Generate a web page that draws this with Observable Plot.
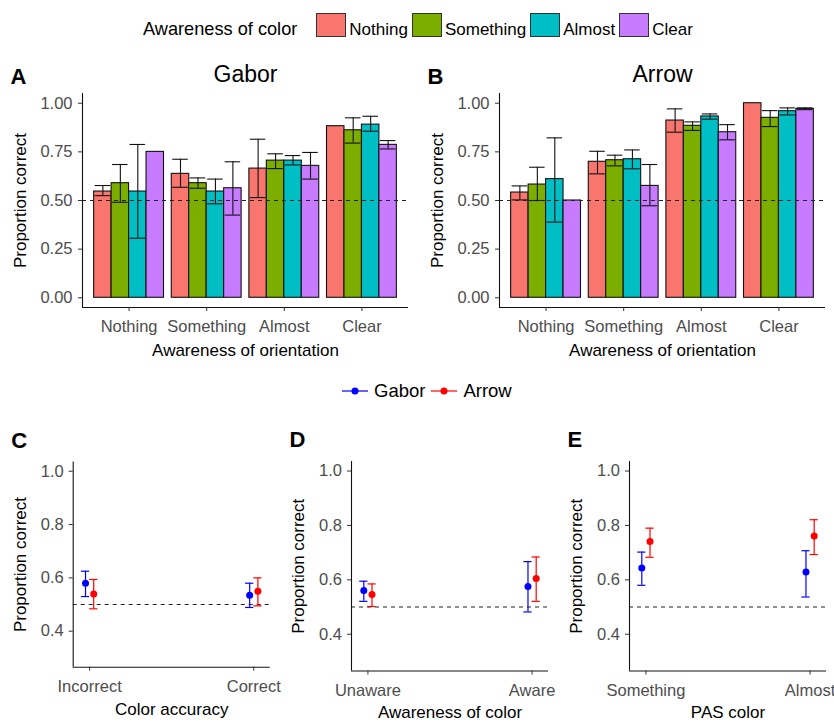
<!DOCTYPE html>
<html><head><meta charset="utf-8">
<script src="https://cdn.jsdelivr.net/npm/d3@7"></script>
<script src="https://cdn.jsdelivr.net/npm/@observablehq/plot@0.6"></script>
<style>
body{margin:0;background:#fff;font-family:"Liberation Sans",Arial,sans-serif;}
#root{position:relative;width:834px;height:722px;overflow:hidden;background:#fff;}
#root > svg{position:absolute;}
.legend{position:absolute;display:flex;align-items:center;white-space:nowrap;color:#000;}
.key{display:inline-block;box-sizing:border-box;border:1px solid #333;}
.lbl{display:inline-block;position:relative;}
</style></head><body><div id="root"></div><script>
// ---------- data ----------
const orientLevels = ["Nothing", "Something", "Almost", "Clear"];
const colorLevels = ["Nothing", "Something", "Almost", "Clear"];
const colorRange = ["#F8766D", "#7CAE00", "#00BFC4", "#C77CFF"];

// rows: awareness of orientation; columns: awareness of color
const gaborMean = [[0.546, 0.589, 0.546, 0.750], [0.637, 0.589, 0.546, 0.563], [0.664, 0.705, 0.705, 0.678], [0.882, 0.861, 0.890, 0.786]];
const gaborLo   = [[0.525, 0.491, 0.306, null],  [0.568, 0.563, 0.483, 0.425], [0.515, 0.664, 0.683, 0.610], [null,  0.795, 0.856, 0.765]];
const gaborHi   = [[0.577, 0.685, 0.788, null],  [0.712, 0.616, 0.610, 0.699], [0.815, 0.740, 0.731, 0.747], [null,  0.925, 0.933, 0.808]];

const arrowMean = [[0.541, 0.582, 0.610, 0.500], [0.699, 0.707, 0.712, 0.575], [0.911, 0.884, 0.932, 0.851], [1.000, 0.925, 0.959, 0.971]];
const arrowLo   = [[0.503, 0.500, 0.389, null],  [0.637, 0.678, 0.663, 0.473], [0.851, 0.860, 0.918, 0.812], [null,  0.880, 0.940, 0.967]];
const arrowHi   = [[0.575, 0.671, 0.822, null],  [0.753, 0.733, 0.760, 0.685], [0.971, 0.904, 0.945, 0.890], [null,  0.962, 0.976, 0.976]];

const taskLevels = ["Gabor", "Arrow"];
const taskColors = ["#0000FF", "#FF0000"];

const accuracyLevels = ["Incorrect", "Correct"];
const accGaborMean = [0.580, 0.535], accGaborLo = [0.530, 0.489], accGaborHi = [0.625, 0.580];
const accArrowMean = [0.540, 0.550], accArrowLo = [0.484, 0.495], accArrowHi = [0.594, 0.600];

const awareLevels = ["Unaware", "Aware"];
const awGaborMean = [0.561, 0.576], awGaborLo = [0.521, 0.482], awGaborHi = [0.595, 0.667];
const awArrowMean = [0.546, 0.605], awArrowLo = [0.502, 0.521], awArrowHi = [0.585, 0.684];

const pasLevels = ["Something", "Almost"];
const pasGaborMean = [0.644, 0.629], pasGaborLo = [0.580, 0.537], pasGaborHi = [0.702, 0.707];
const pasArrowMean = [0.741, 0.761], pasArrowLo = [0.683, 0.693], pasArrowHi = [0.790, 0.821];

const barTicks = [0, 0.25, 0.5, 0.75, 1];
const pointTicks = [0.4, 0.6, 0.8, 1.0];

// ---------- layout ----------
const FONT = '"Liberation Sans", Arial, sans-serif';
const root = document.getElementById("root");

function place(svg, left, top) {
  svg.style.left = left + "px";
  svg.style.top = top + "px";
  root.appendChild(svg);
}

function barPanel({means, los, his, title, letter, left}) {
  const dodge = 0.9, n = colorLevels.length, bw = dodge / n;
  const rows = [];
  orientLevels.forEach((o, gi) => colorLevels.forEach((c, ci) => rows.push({
    orient: o, color: c, pos: gi + 1 + (ci - (n - 1) / 2) * bw,
    mean: means[gi][ci], lo: los[gi][ci], hi: his[gi][ci]
  })));
  const err = rows.filter(d => d.lo != null);
  const whisk = 0.1;
  const xDom = [0.4, orientLevels.length + 0.6], yDom = [-0.05, 1.05];
  return place(Plot.plot({
    width: 417, height: 307, marginTop: 38, marginBottom: 55, marginLeft: 82, marginRight: 9,
    style: {fontFamily: FONT, fontSize: "16.5px", background: "transparent", overflow: "visible"},
    x: {domain: xDom},
    y: {domain: yDom},
    color: {domain: colorLevels, range: colorRange},
    marks: [
      Plot.rect(rows, {x1: d => d.pos - bw / 2, x2: d => d.pos + bw / 2, y1: 0, y2: "mean", fill: "color", stroke: "#111", strokeWidth: 1.1}),
      Plot.ruleX(err, {x: "pos", y1: "lo", y2: "hi", stroke: "#111", strokeWidth: 1.1}),
      Plot.ruleY(err, {y: "hi", x1: d => d.pos - whisk, x2: d => d.pos + whisk, stroke: "#111", strokeWidth: 1.1}),
      Plot.ruleY(err, {y: "lo", x1: d => d.pos - whisk, x2: d => d.pos + whisk, stroke: "#111", strokeWidth: 1.1}),
      Plot.ruleY([0.5], {stroke: "#222", strokeDasharray: "4,4", strokeWidth: 1.1}),
      Plot.ruleY([yDom[0]], {stroke: "#111", strokeWidth: 1.1}),
      Plot.ruleX([xDom[0]], {stroke: "#111", strokeWidth: 1.1}),
      Plot.axisX(orientLevels.map((_, i) => i + 1), {tickFormat: d => orientLevels[d - 1], tickSize: 4, tickPadding: 9, label: null, stroke: "#333", fill: "#4D4D4D", fontSize: 16.5}),
      Plot.axisY(barTicks, {tickFormat: d3.format(".2f"), tickSize: 4, tickPadding: 6, label: null, stroke: "#333", fill: "#4D4D4D", fontSize: 16.5}),
      Plot.text(["Awareness of orientation"], {text: d => d, frameAnchor: "bottom", dy: 42.6, lineAnchor: "middle", fontSize: 17, fill: "#000"}),
      Plot.text(["Proportion correct"], {text: d => d, frameAnchor: "left", dx: -62, rotate: -90, textAnchor: "middle", lineAnchor: "middle", fontSize: 17, fill: "#000"}),
      Plot.text([title], {text: d => d, frameAnchor: "top", dy: -18.4, lineAnchor: "middle", fontSize: 23, fill: "#000"}),
      Plot.text([letter], {text: d => d, frameAnchor: "top-left", dx: -72, dy: -17, textAnchor: "start", lineAnchor: "middle", fontSize: 22, fontWeight: "bold", fill: "#000"})
    ]
  }), left, 55);
}

function pointPanel({levels, series, xTitle, letter, left, width, marginLeft, marginBottom, marginTop}) {
  const dodge = 0.05, whisk = 0.025;
  const rows = [];
  series.forEach((s, si) => levels.forEach((lv, li) => rows.push({
    task: taskLevels[si], level: lv, pos: li + 1 + (si - 0.5) * dodge,
    mean: s.mean[li], lo: s.lo[li], hi: s.hi[li]
  })));
  const xDom = [0.9, levels.length + 0.1], yDom = [0.265, 1.035];
  return place(Plot.plot({
    width, height: 302, marginTop, marginBottom, marginLeft, marginRight: width - marginLeft - 197,
    style: {fontFamily: FONT, fontSize: "16.5px", background: "transparent", overflow: "visible"},
    x: {domain: xDom},
    y: {domain: yDom},
    color: {domain: taskLevels, range: taskColors},
    marks: [
      Plot.ruleY([0.5], {stroke: "#222", strokeDasharray: "4,4", strokeWidth: 1.1}),
      Plot.ruleX(rows, {x: "pos", y1: "lo", y2: "hi", stroke: "task", strokeWidth: 1.2}),
      Plot.ruleY(rows, {y: "hi", x1: d => d.pos - whisk, x2: d => d.pos + whisk, stroke: "task", strokeWidth: 1.2}),
      Plot.ruleY(rows, {y: "lo", x1: d => d.pos - whisk, x2: d => d.pos + whisk, stroke: "task", strokeWidth: 1.2}),
      Plot.dot(rows, {x: "pos", y: "mean", fill: "task", r: 3.5}),
      Plot.ruleY([yDom[0]], {stroke: "#111", strokeWidth: 1.1}),
      Plot.ruleX([xDom[0]], {stroke: "#111", strokeWidth: 1.1}),
      Plot.axisX(levels.map((_, i) => i + 1), {tickFormat: d => levels[d - 1], tickSize: 4, tickPadding: 9, label: null, stroke: "#333", fill: "#4D4D4D", fontSize: 16.5}),
      Plot.axisY(pointTicks, {tickFormat: d3.format(".1f"), tickSize: 4, tickPadding: 5.5, label: null, stroke: "#333", fill: "#4D4D4D", fontSize: 16.5}),
      Plot.text([xTitle], {text: d => d, frameAnchor: "bottom", dy: 42, lineAnchor: "middle", fontSize: 17, fill: "#000"}),
      Plot.text(["Proportion correct"], {text: d => d, frameAnchor: "left", dx: -52.6, rotate: -90, textAnchor: "middle", lineAnchor: "middle", fontSize: 17, fill: "#000"}),
      Plot.text([letter], {text: d => d, frameAnchor: "top-left", dx: -62, dy: -21.4, textAnchor: "start", lineAnchor: "middle", fontSize: 22, fontWeight: "bold", fill: "#000"})
    ]
  }), left, 420);
}

// ---------- top legend ----------
const leg1 = document.createElement("div");
leg1.className = "legend";
leg1.style.left = "143px"; leg1.style.top = "13px"; leg1.style.height = "24px";
const lt = document.createElement("span");
lt.className = "lbl";
lt.textContent = "Awareness of color";
lt.style.fontSize = "18.2px"; lt.style.marginRight = "19px"; lt.style.top = "4.5px";
leg1.appendChild(lt);
colorLevels.forEach((c, i) => {
  const k = document.createElement("span");
  k.className = "key";
  k.style.width = "30px"; k.style.height = "24px"; k.style.background = colorRange[i]; k.style.marginRight = "3px";
  const t = document.createElement("span");
  t.className = "lbl";
  t.textContent = c; t.style.fontSize = "17px"; t.style.marginRight = "4px"; t.style.top = "4.5px";
  leg1.appendChild(k); leg1.appendChild(t);
});
root.appendChild(leg1);

// ---------- bar panels ----------
barPanel({means: gaborMean, los: gaborLo, his: gaborHi, title: "Gabor", letter: "A", left: 0});
barPanel({means: arrowMean, los: arrowLo, his: arrowHi, title: "Arrow", letter: "B", left: 417});

// ---------- middle legend ----------
const leg2 = document.createElement("div");
leg2.className = "legend";
leg2.style.left = "342px"; leg2.style.top = "381px"; leg2.style.height = "20px";
taskLevels.forEach((t, i) => {
  const ns = "http://www.w3.org/2000/svg";
  const s = document.createElementNS(ns, "svg");
  s.setAttribute("width", 26); s.setAttribute("height", 20);
  const ln = document.createElementNS(ns, "line");
  ln.setAttribute("x1", 0); ln.setAttribute("x2", 26); ln.setAttribute("y1", 10); ln.setAttribute("y2", 10);
  ln.setAttribute("stroke", taskColors[i]); ln.setAttribute("stroke-width", 1.2);
  const c = document.createElementNS(ns, "circle");
  c.setAttribute("cx", 13); c.setAttribute("cy", 10); c.setAttribute("r", 3.5); c.setAttribute("fill", taskColors[i]);
  s.appendChild(ln); s.appendChild(c);
  const tx = document.createElement("span");
  tx.textContent = t; tx.style.fontSize = "18.5px"; tx.style.marginLeft = "6px"; tx.style.marginRight = "6px";
  leg2.appendChild(s); leg2.appendChild(tx);
});
root.appendChild(leg2);

// ---------- point panels ----------
pointPanel({levels: accuracyLevels, letter: "C", xTitle: "Color accuracy", left: 0, width: 280, marginLeft: 72.7, marginTop: 41.4, marginBottom: 55.3,
  series: [{mean: accGaborMean, lo: accGaborLo, hi: accGaborHi}, {mean: accArrowMean, lo: accArrowLo, hi: accArrowHi}]});
pointPanel({levels: awareLevels, letter: "D", xTitle: "Awareness of color", left: 278, width: 280, marginLeft: 73, marginTop: 41, marginBottom: 51.5,
  series: [{mean: awGaborMean, lo: awGaborLo, hi: awGaborHi}, {mean: awArrowMean, lo: awArrowLo, hi: awArrowHi}]});
pointPanel({levels: pasLevels, letter: "E", xTitle: "PAS color", left: 556, width: 278, marginLeft: 73, marginTop: 41, marginBottom: 51.5,
  series: [{mean: pasGaborMean, lo: pasGaborLo, hi: pasGaborHi}, {mean: pasArrowMean, lo: pasArrowLo, hi: pasArrowHi}]});
</script></body></html>
